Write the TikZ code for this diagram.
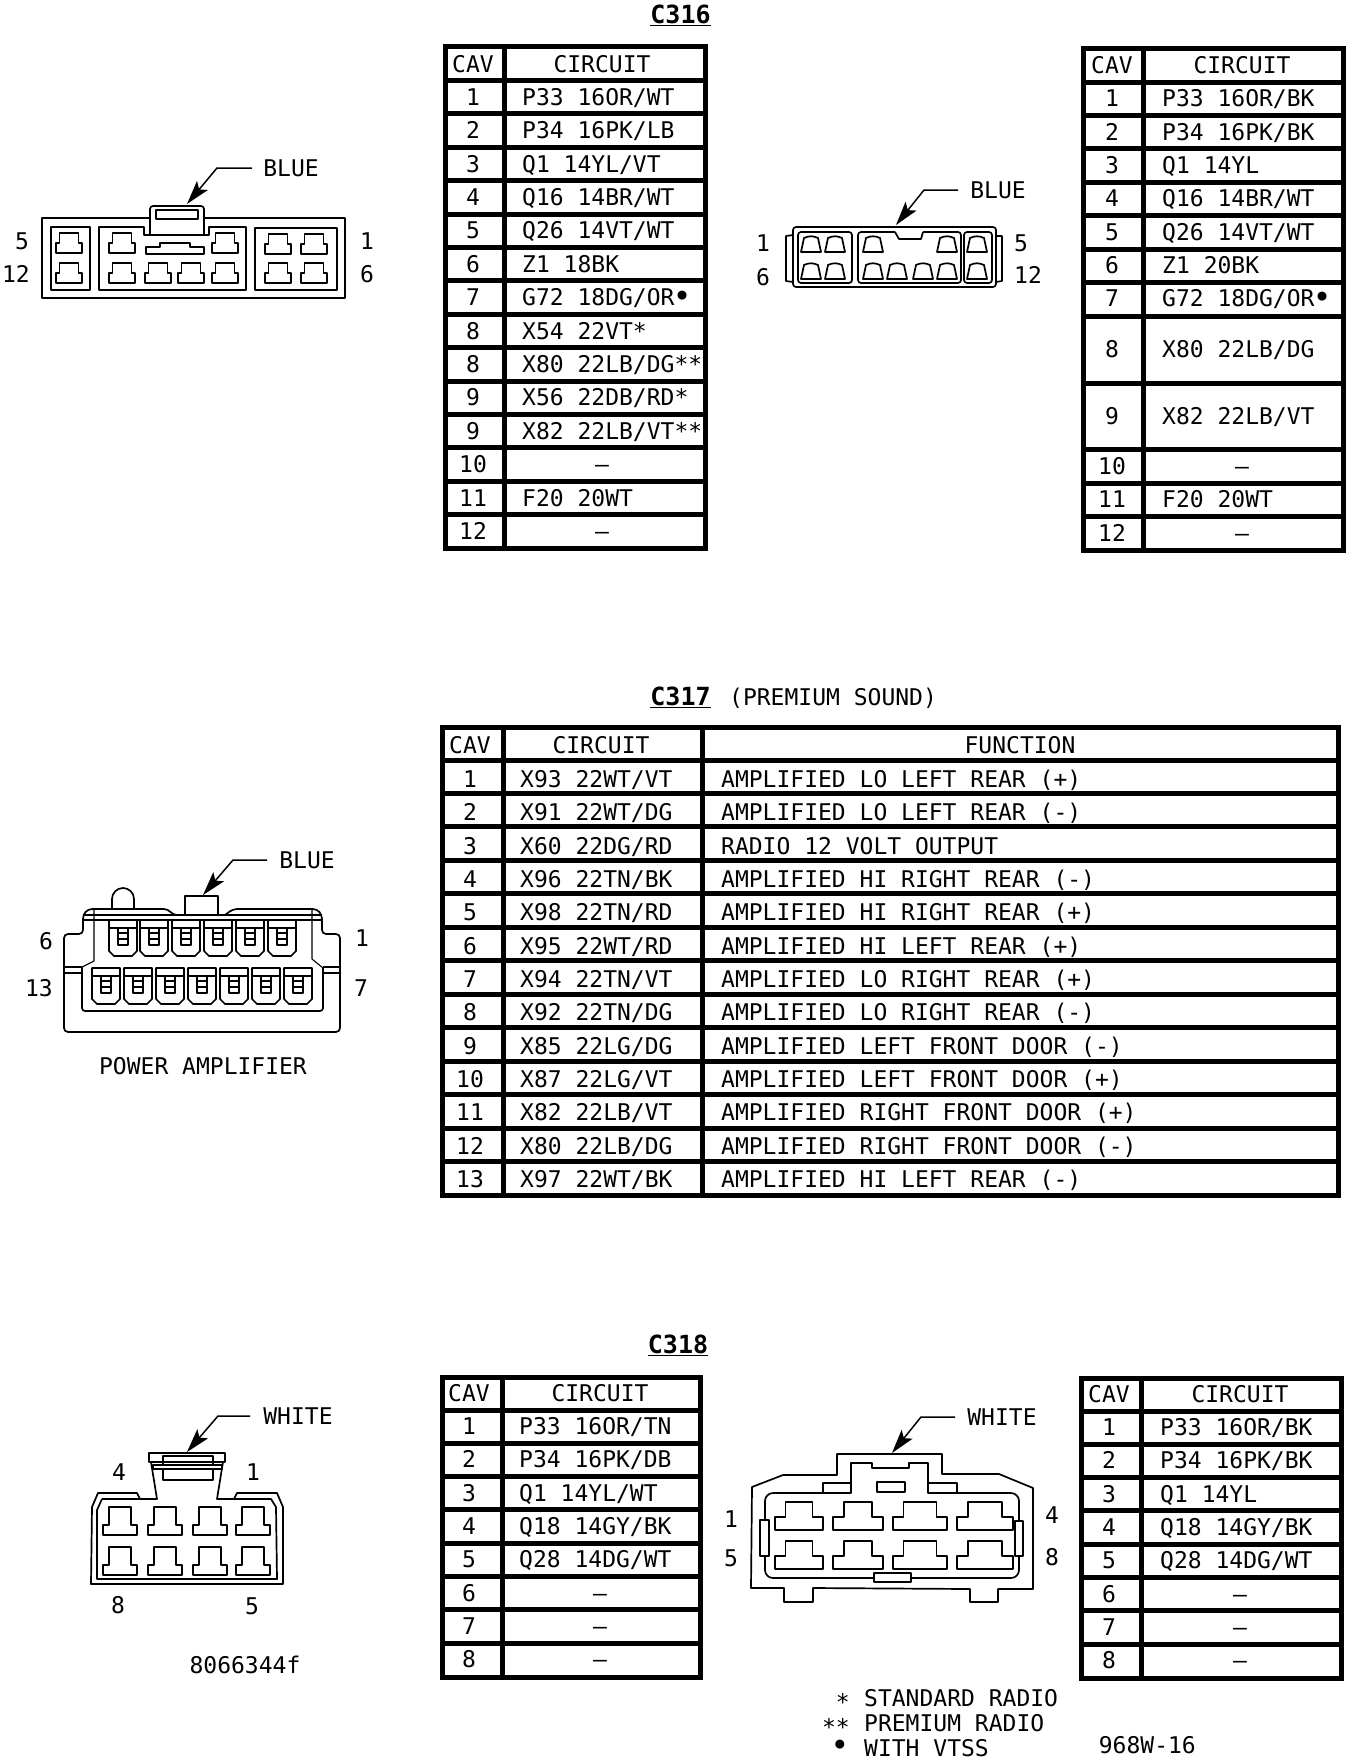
\documentclass[tikz,border=0pt]{standalone}
\usepackage{fontspec}
\setmainfont{DejaVu Sans Mono}
\usetikzlibrary{arrows.meta}
\newcommand\tabf{\fontsize{23}{23}\selectfont}
\newcommand\ttlf{\fontsize{25}{25}\selectfont\bfseries}
\newcommand\bul{\hspace{3pt}\raisebox{6pt}{\fontsize{15}{15}\selectfont●}}
\tikzset{
  rule/.style={line width=5pt,line cap=rect},
  part/.style={draw,line width=1.7pt,line join=round},
  thin part/.style={draw,line width=1.1pt,line join=round},
  cel/.style={font=\tabf,inner sep=0pt,anchor=base,yshift=-8pt},
  celw/.style={font=\tabf,inner sep=0pt,anchor=base west,yshift=-8pt},
  lab/.style={font=\tabf,inner sep=0pt},
  ttl/.style={font=\ttlf,inner sep=0pt},
  leader/.style={draw,line width=1.5pt,-{Stealth[length=24pt,width=14pt,inset=5pt]}}
}
% cavity: narrow top, wide bottom
\newcommand\tee[7]{% cx,top,halfnarrow,halfwide,shoulder,bottom (relative),unused
  \draw[part,shift={(#1,#2)}] (-#3,0) -- (#3,0) -- (#3,#5) -- (#4,#5) -- (#4,#6) -- (-#4,#6) -- (-#4,#5) -- (-#3,#5) -- cycle;}
\newcommand\trap[2]{% trapezoid cavity of the second connector
  \draw[part,shift={(#1,#2)}] (-10,16) -- (-7,2) to[bend left=25] (7,2) -- (10,16) -- cycle;}
\newcommand\term[2]{% terminal of the amplifier connector
  \draw[part,shift={(#1,#2)}] (-14,0) -- (-14,31) -- (-9,36) -- (9,36) -- (14,31) -- (14,0) -- cycle;
  \draw[part,shift={(#1,#2)}] (-14,8) -- (14,8);
  \draw[part,line width=2.2pt,shift={(#1,#2)}] (-5,8) -- (-5,25) -- (5,25) -- (5,8);
  \draw[part,line width=1.8pt,shift={(#1,#2)}] (-5,13) -- (5,13) (-5,19) -- (5,19);}
\begin{document}
\begin{tikzpicture}[x=1pt,y=-1pt]
\fill[white] (0,0) rectangle (1360,1764);
\useasboundingbox (0,0) rectangle (1360,1764);

%%% titles
\node[ttl] (c316) at (680.5,15) {\underline{C316}};
\node[ttl] (c317) at (680.5,697) {\underline{C317}};
\node[lab,anchor=west] (c317b) at (729,698) {(PREMIUM SOUND)};
\node[ttl] (c318) at (678,1345) {\underline{C318}};

%%% table 1
\draw[rule] (445,46) rectangle (705,548);
\draw[rule] (504,46) -- (504,548);
\foreach \r in {0,...,13} \draw[rule] (445,{80.5+33.4*\r}) -- (705,{80.5+33.4*\r});
\node[cel] (t1h) at (473,64) {CAV};
\node[cel] (t1i) at (602,64) {CIRCUIT};
\foreach \cav/\cir [count=\r] in {1/{P33 16OR/WT},2/{P34 16PK/LB},3/{Q1 14YL/VT},4/{Q16 14BR/WT},5/{Q26 14VT/WT},6/{Z1 18BK},7/{G72 18DG/OR\bul},8/{X54 22VT*},8/{X80 22LB/DG**},9/{X56 22DB/RD*},9/{X82 22LB/VT**},10/{},11/{F20 20WT},12/{}}{
  \node[cel] (t1c\r) at (473,{80.5+33.4*(\r-0.5)}) {\cav};
  \node[celw] (t1t\r) at (522,{80.5+33.4*(\r-0.5)}) {\cir};
}
\node[cel] (t1d1) at (602,{80.5+33.4*11.5}) {–};
\node[cel] (t1d2) at (602,{80.5+33.4*13.5}) {–};

%%% table 2
\draw[rule] (1083,48) rectangle (1343,550);
\draw[rule] (1143,48) -- (1143,550);
\foreach \y in {82,115,148,182,215,249,282,316,383,449,483,516}
  \draw[rule] (1083,\y) -- (1343,\y);
\node[cel] (t2h) at (1112,65) {CAV};
\node[cel] (t2i) at (1242,65) {CIRCUIT};
\foreach \n/\y/\cir in {1/98/{P33 16OR/BK},2/132/{P34 16PK/BK},3/165/{Q1 14YL},4/198/{Q16 14BR/WT},5/232/{Q26 14VT/WT},6/265/{Z1 20BK},7/298/{G72 18DG/OR\bul},8/349/{X80 22LB/DG},9/416/{X82 22LB/VT},11/499/{F20 20WT}}{
  \node[cel] (t2c\n) at (1112,\y) {\n};
  \node[celw] (t2t\n) at (1162,\y) {\cir};
}
\node[cel] (t2c10) at (1112,466) {10};
\node[cel] (t2d1) at (1242,466) {–};
\node[cel] (t2c12) at (1112,533) {12};
\node[cel] (t2d2) at (1242,533) {–};

%%% table 3
\draw[rule] (442.5,727.5) rectangle (1338,1195);
\draw[rule] (503,727.5) -- (503,1195);
\draw[rule] (702,727.5) -- (702,1195);
\foreach \r in {0,...,12} \draw[rule] (442.5,{760+33.46*\r}) -- (1338,{760+33.46*\r});
\node[cel] (t3h) at (470,745) {CAV};
\node[cel] (t3i) at (601,745) {CIRCUIT};
\node[cel] (t3f) at (1020,745) {FUNCTION};
\foreach \cir/\fun [count=\r] in {{X93 22WT/VT}/{AMPLIFIED LO LEFT REAR (+)},{X91 22WT/DG}/{AMPLIFIED LO LEFT REAR (-)},{X60 22DG/RD}/{RADIO 12 VOLT OUTPUT},{X96 22TN/BK}/{AMPLIFIED HI RIGHT REAR (-)},{X98 22TN/RD}/{AMPLIFIED HI RIGHT REAR (+)},{X95 22WT/RD}/{AMPLIFIED HI LEFT REAR (+)},{X94 22TN/VT}/{AMPLIFIED LO RIGHT REAR (+)},{X92 22TN/DG}/{AMPLIFIED LO RIGHT REAR (-)},{X85 22LG/DG}/{AMPLIFIED LEFT FRONT DOOR (-)},{X87 22LG/VT}/{AMPLIFIED LEFT FRONT DOOR (+)},{X82 22LB/VT}/{AMPLIFIED RIGHT FRONT DOOR (+)},{X80 22LB/DG}/{AMPLIFIED RIGHT FRONT DOOR (-)},{X97 22WT/BK}/{AMPLIFIED HI LEFT REAR (-)}}{
  \node[cel] (t3c\r) at (470,{779.4+33.33*(\r-1)}) {\r};
  \node[celw] (t3t\r) at (520,{779.4+33.33*(\r-1)}) {\cir};
  \node[celw] (t3f\r) at (721,{779.4+33.33*(\r-1)}) {\fun};
}

%%% table 4
\draw[rule] (442,1377) rectangle (700,1677);
\draw[rule] (502,1377) -- (502,1677);
\foreach \r in {0,...,7} \draw[rule] (442,{1410+33.3*\r}) -- (700,{1410+33.3*\r});
\node[cel] (t4h) at (469,1393) {CAV};
\node[cel] (t4i) at (600,1393) {CIRCUIT};
\foreach \cir [count=\r] in {{P33 16OR/TN},{P34 16PK/DB},{Q1 14YL/WT},{Q18 14GY/BK},{Q28 14DG/WT},{},{},{}}{
  \node[cel] (t4c\r) at (469,{1410+33.3*(\r-0.5)}) {\r};
  \node[celw] (t4t\r) at (519,{1410+33.3*(\r-0.5)}) {\cir};
}
\foreach \r in {6,7,8} \node[cel] (t4d\r) at (600,{1410+33.3*(\r-0.5)}) {–};

%%% table 5
\draw[rule] (1081,1378) rectangle (1341,1678);
\draw[rule] (1141,1378) -- (1141,1678);
\foreach \r in {0,...,7} \draw[rule] (1081,{1411+33.3*\r}) -- (1341,{1411+33.3*\r});
\node[cel] (t5h) at (1109,1394) {CAV};
\node[cel] (t5i) at (1240,1394) {CIRCUIT};
\foreach \cir [count=\r] in {{P33 16OR/BK},{P34 16PK/BK},{Q1 14YL},{Q18 14GY/BK},{Q28 14DG/WT},{},{},{}}{
  \node[cel] (t5c\r) at (1109,{1411+33.3*(\r-0.5)}) {\r};
  \node[celw] (t5t\r) at (1160,{1411+33.3*(\r-0.5)}) {\cir};
}
\foreach \r in {6,7,8} \node[cel] (t5d\r) at (1240,{1411+33.3*(\r-0.5)}) {–};

%%% connector 1 (C316 left)
\draw[part] (150,218) -- (42,218) -- (42,298) -- (345,298) -- (345,218) -- (204,218);
\draw[part,rounded corners=3pt] (150,235) -- (150,206) -- (204,206) -- (204,235);
\draw[part] (156,210) rectangle (198,219);
\draw[part] (51,227) rectangle (90,290);
\draw[part] (144,227) -- (99,227) -- (99,290) -- (246,290) -- (246,227) -- (209,227) -- (209,235) -- (144,235) -- cycle;
\draw[thin part] (255,228) rectangle (337,290);
\foreach \cx/\ty in {69/233,122/233,225/233,278/234,314/234,69/263,122/263,158/263,191/263,225/263,278/263,314/263}
  \tee{\cx}{\ty}{9.5}{13}{10}{20}{};
\draw[part,line width=2pt] (146,254) -- (146,247) -- (160,247) -- (160,243) -- (190,243) -- (190,247) -- (204,247) -- (204,254) -- cycle;
\node[lab] (p1a) at (22,241) {5};
\node[lab] (p1b) at (16,274) {12};
\node[lab] (p1c) at (367,241) {1};
\node[lab] (p1d) at (367,274) {6};
\node[lab] (blue1) at (291,168) {BLUE};
\coordinate (k1) at (217,168);
\coordinate (tip1) at (187,204);
\draw[leader] ([xshift=-11pt]blue1.west) -- (k1) -- (tip1);

%%% connector 2 (C316 right)
\draw[part,rounded corners=3pt] (793,227) rectangle (996,287);
\draw[part] (793,235) -- (786,236) -- (786,281) -- (793,282);
\draw[part] (996,236) -- (1002,236) -- (1002,281) -- (996,282);
\draw[part,rounded corners=3pt] (798,232) rectangle (852,283);
\draw[part,rounded corners=3pt] (964,232) rectangle (992,283);
\draw[part,rounded corners=3pt] (895,232) -- (858,232) -- (858,283) -- (961,283) -- (961,232) -- (923,232);
\draw[part] (895,232) -- (899,239) -- (921,239) -- (923,232);
\foreach \cx/\ty in {811/236,835/236,873/236,947/236,977/236,811/263,835/263,873/263,897/263,923/263,947/263,977/263}
  \trap{\cx}{\ty};
\node[lab] (p2a) at (763,243) {1};
\node[lab] (p2b) at (763,277) {6};
\node[lab] (p2c) at (1021,243) {5};
\node[lab] (p2d) at (1028,275) {12};
\node[lab] (blue2) at (998,190) {BLUE};
\coordinate (k2) at (924,190);
\coordinate (tip2) at (896,225);
\draw[leader] ([xshift=-12pt]blue2.west) -- (k2) -- (tip2);

%%% connector 3 (power amplifier)
\draw[part,rounded corners=4pt] (185,915) -- (173,915) -- (168,909) -- (88,909) -- (83,915) -- (83,934) -- (64,934) -- (64,1032) -- (340,1032) -- (340,934) -- (322,934) -- (322,915) -- (317,909) -- (233,909) -- (225,915);
\draw[part] (185,915) -- (185,896) -- (218,896) -- (218,915);
\draw[part] (112,909) -- (112,899) arc[start angle=180,end angle=360,radius=11] -- (134,909);
\draw[part] (83,915) -- (322,915);
\draw[thin part] (83,920) -- (322,920);
\draw[thin part] (94,909) -- (94,961) -- (82,967);
\draw[thin part] (312,909) -- (312,959) -- (323,968);
\draw[part,rounded corners=3pt] (82,967) -- (82,1011) -- (323,1011) -- (323,967);
\draw[thin part] (64,967) -- (82,967) (64,973) -- (82,973) (323,967) -- (340,967) (323,973) -- (340,973);
\foreach \cx in {123,154,186,218,250,282} \term{\cx}{920};
\foreach \cx in {106,138,170,202,234,266,298} \term{\cx}{968};
\node[lab] (p3a) at (46,941) {6};
\node[lab] (p3b) at (39,988) {13};
\node[lab] (p3c) at (362,938) {1};
\node[lab] (p3d) at (361,988) {7};
\node[lab] (blue3) at (307,860) {BLUE};
\coordinate (k3) at (233,860);
\coordinate (tip3) at (203,895);
\draw[leader] ([xshift=-12pt]blue3.west) -- (k3) -- (tip3);
\node[lab] (pa) at (203,1066) {POWER AMPLIFIER};

%%% connector 4 (C318 left)
\draw[part] (149,1453) -- (225,1453) -- (225,1462) -- (149,1462) -- cycle;
\draw[part] (151,1462) -- (157,1499) -- (140,1499) -- (137,1493) -- (98,1493) -- (92,1507) -- (91,1584) -- (283,1584) -- (283,1507) -- (277,1493) -- (237,1493) -- (234,1499) -- (217,1499) -- (223,1462);
\draw[part] (102,1499) -- (97,1510) -- (97,1579) -- (277,1579) -- (276,1507) -- (271,1499) -- (234,1499);
\draw[part] (102,1499) -- (140,1499);
\draw[thin part] (163,1456) rectangle (213,1480);
\draw[part,fill=white] (153,1465) rectangle (222,1469);
\foreach \cx in {120,165,210,253} {\tee{\cx}{1507}{11}{17}{18}{28}{};\tee{\cx}{1547}{11}{17}{18}{28}{};}
\node[lab] (p4a) at (119,1472) {4};
\node[lab] (p4b) at (253,1472) {1};
\node[lab] (p4c) at (118,1605) {8};
\node[lab] (p4d) at (252,1606) {5};
\node[lab] (white1) at (298,1416) {WHITE};
\coordinate (k4) at (218,1416);
\coordinate (tip4) at (187,1452);
\draw[leader] ([xshift=-13pt]white1.west) -- (k4) -- (tip4);
\node[lab] (pn) at (245,1665) {8066344f};

%%% connector 5 (C318 right)
\draw[part] (752,1487) -- (783,1475) -- (837,1475) -- (837,1454) -- (942,1454) -- (942,1474) -- (999,1474) -- (1033,1488) -- (1033,1589) -- (998,1589) -- (998,1602) -- (970,1602) -- (970,1589) -- (813,1588) -- (813,1602) -- (784,1602) -- (784,1588) -- (751,1588) -- cycle;
\draw[part] (823,1493) -- (823,1483) -- (851,1483) -- (851,1493) -- cycle;
\draw[part] (851,1493) -- (851,1463) -- (872,1463) -- (872,1468) -- (909,1468) -- (909,1463) -- (928,1463) -- (928,1493) -- (957,1493) -- (957,1483) -- (928,1483);
\draw[part] (877,1482) rectangle (905,1492);
\draw[part,rounded corners=8pt] (823,1493) -- (765,1493) -- (765,1578) -- (1019,1578) -- (1019,1493) -- (957,1493);
\draw[part,fill=white] (760,1520) rectangle (769,1556);
\draw[part,fill=white] (1015,1521) rectangle (1023,1556);
\draw[part,fill=white] (874,1573) rectangle (911,1582);
\foreach \ty in {1502,1541} {
  \tee{799}{\ty}{13.5}{24}{15}{28}{};
  \tee{858}{\ty}{14}{25}{15}{28}{};
  \tee{920}{\ty}{16.5}{27}{15}{28}{};
  \tee{985}{\ty}{17}{28}{15}{28}{};
}
\node[lab] (p5a) at (731,1519) {1};
\node[lab] (p5b) at (731,1558) {5};
\node[lab] (p5c) at (1052,1515) {4};
\node[lab] (p5d) at (1052,1557) {8};
\node[lab] (white2) at (1002,1417) {WHITE};
\coordinate (k5) at (921,1417);
\coordinate (tip5) at (892,1453);
\draw[leader] ([xshift=-12pt]white2.west) -- (k5) -- (tip5);

%%% legend
\node[lab,anchor=east] (s1) at (850,1702) {*};
\node[lab,anchor=west] (l1) at (864,1698) {STANDARD RADIO};
\node[lab,anchor=east] (s2) at (850,1727) {**};
\node[lab,anchor=west] (l2) at (864,1723) {PREMIUM RADIO};
\node[lab,font=\fontsize{15}{15}\selectfont] (s3) at (840,1745) {●};
\node[lab,anchor=west] (l3) at (864,1748) {WITH VTSS};
\node[lab,anchor=east] (dn) at (1196,1745) {968W-16};
\end{tikzpicture}
\end{document}
